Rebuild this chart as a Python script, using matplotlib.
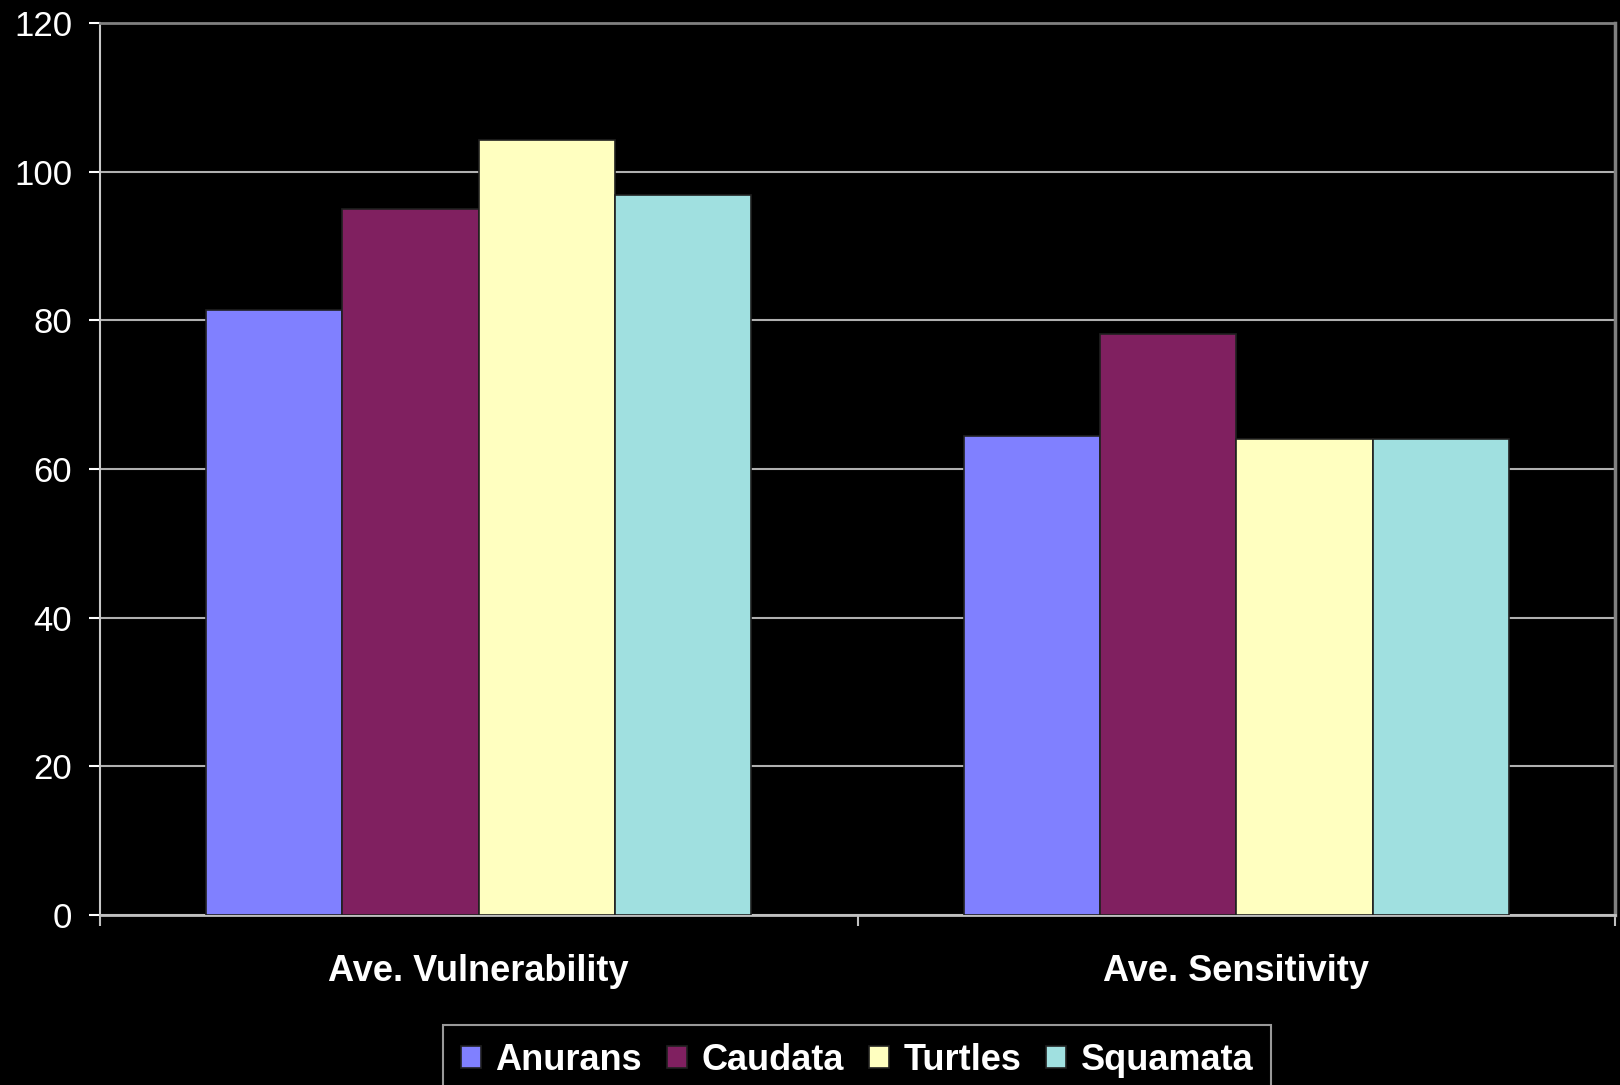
import matplotlib
matplotlib.use("Agg")
import matplotlib.pyplot as plt
import numpy as np

categories = ["Ave. Vulnerability", "Ave. Sensitivity"]
series_names = ["Anurans", "Caudata", "Turtles", "Squamata"]
anurans = [81.4, 64.4]
caudata = [95.0, 78.2]
turtles = [104.3, 64.0]
squamata = [96.8, 64.0]
colors = ["#8080FF", "#802060", "#FFFFC0", "#A0E0E0"]
yticks = [0, 20, 40, 60, 80, 100, 120]

plt.rcParams['font.family'] = ['Liberation Sans', 'DejaVu Sans']

fig = plt.figure(figsize=(16.2, 10.85), dpi=100, facecolor="black")
ax = fig.add_axes([100/1620, 1 - 915/1085, 1515/1620, (915-23)/1085])
ax.set_facecolor("black")

x = np.arange(len(categories))
width = 0.18
all_vals = [anurans, caudata, turtles, squamata]
for i, (name, vals, c) in enumerate(zip(series_names, all_vals, colors)):
    ax.bar(x + (i - 1.5) * width, vals, width, color=c, label=name,
           edgecolor="#202020", linewidth=1.2, zorder=3)

ax.set_xlim(-0.5, 1.5)
ax.set_ylim(0, 120)
ax.set_yticks(yticks)
ax.set_yticklabels([str(v) for v in yticks])
ax.yaxis.grid(True, color="#b0b0b0", linewidth=1.5, zorder=0)
ax.set_axisbelow(True)

ax.tick_params(axis="y", colors="white", labelsize=25, length=8, width=1.5,
               pad=12, direction="out")
ax.set_xticks(x)
ax.set_xticklabels(categories, fontsize=26, fontweight="bold", color="white")
ax.tick_params(axis="x", which="major", length=0, pad=28, colors="white")
ax.set_xticks([-0.5, 0.5, 1.5], minor=True)
ax.tick_params(axis="x", which="minor", length=8, width=1.5, color="#c0c0c0",
               direction="out")
for lbl in ax.get_xticklabels():
    lbl.set_fontweight("bold")

ax.spines["left"].set_color("#c8c8c8")
ax.spines["left"].set_linewidth(1.5)
ax.spines["bottom"].set_color("#c0c0c0")
ax.spines["bottom"].set_linewidth(2)
ax.spines["top"].set_color("#808080")
ax.spines["top"].set_linewidth(2)
ax.spines["right"].set_color("#808080")
ax.spines["right"].set_linewidth(2.5)

leg = fig.legend(loc="upper center", bbox_to_anchor=(857/1620, 1 - 1025/1085),
                 ncol=4, frameon=True, fancybox=False, facecolor="black",
                 edgecolor="#c0c0c0", handlelength=0.55, handleheight=0.55,
                 handletextpad=0.4, columnspacing=0.7, borderpad=0.5,
                 borderaxespad=0,
                 prop={"size": 26, "weight": "bold"})
leg.get_frame().set_linewidth(1.5)
for t in leg.get_texts():
    t.set_color("white")

fig.savefig("out.png", dpi=100, facecolor="black")
